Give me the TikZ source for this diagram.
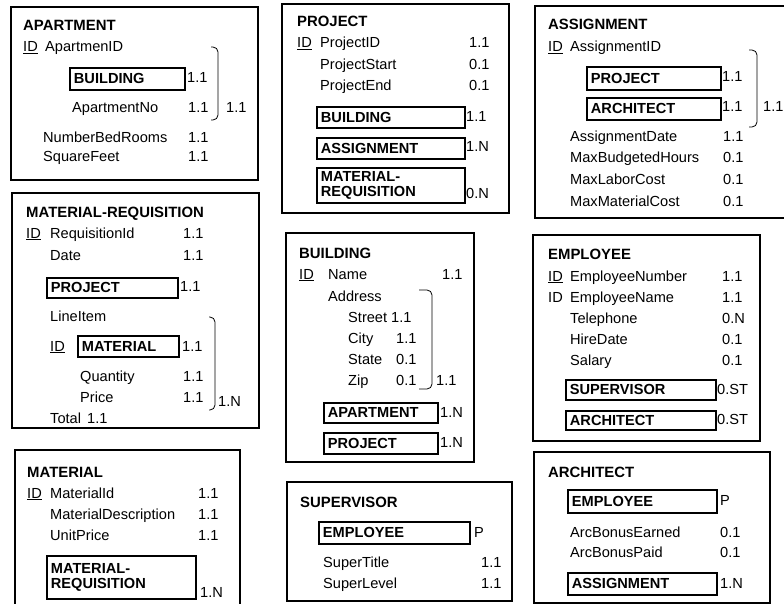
\documentclass[tikz,border=0pt]{standalone}
\usepackage{fontspec}
\setmainfont{Liberation Sans}

\begin{document}
\begin{tikzpicture}[x=1pt, y=-1pt]
	\tikzstyle{every node} = [anchor=base west, inner sep=0pt, font=\fontsize{14.6}{15}\selectfont]
	\tikzstyle{ent} = [line width=2.2pt]
	\tikzstyle{head} = [font=\fontsize{14.9}{15}\selectfont\bfseries]
	\tikzstyle{ref} = [draw, line width=1.9pt, anchor=north west, inner xsep=4pt, inner ysep=0pt, align=left, font=\fontsize{14.6}{15.5}\selectfont\bfseries]
	\tikzstyle{brk} = [line width=0.8pt, rounded corners=5pt]
	\useasboundingbox (0,0) rectangle (784,604);

	\draw[ent] (11,7) rectangle (258,180);
	\node[head] (A0) at (23,31) {APARTMENT};
	\node (A1) at (23,52) {\underline{ID}};
	\node (A2) at (45,52) {ApartmenID};
	\node[ref, text width=107pt, minimum height=22pt] (A3) at (69,67) {BUILDING};
	\node (A4) at (187,83) {1.1};
	\node (A5) at (72,113) {ApartmentNo};
	\node (A6) at (188,113) {1.1};
	\draw[brk] (211,47) -| (218,120) -- (211,120);
	\node (A7) at (226,113) {1.1};
	\node (A8) at (43,143) {NumberBedRooms};
	\node (A9) at (188,143) {1.1};
	\node (A10) at (43,162) {SquareFeet};
	\node (A11) at (188,162) {1.1};

	\draw[ent] (282,4) rectangle (509,213);
	\node[head] (P0) at (297,27) {PROJECT};
	\node (P1) at (297,48) {\underline{ID}};
	\node (P2) at (320,48) {ProjectID};
	\node (P3) at (469,48) {1.1};
	\node (P4) at (320,70) {ProjectStart};
	\node (P5) at (469,70) {0.1};
	\node (P6) at (320,91) {ProjectEnd};
	\node (P7) at (469,91) {0.1};
	\node[ref, text width=140pt, minimum height=21pt] (P8) at (316,106) {BUILDING};
	\node (P9) at (466,122) {1.1};
	\node[ref, text width=140pt, minimum height=21pt] (P10) at (316,137) {ASSIGNMENT};
	\node (P11) at (466,152) {1.N};
	\node[ref, text width=140pt, minimum height=35pt] (P12) at (316,167) {MATERIAL-\\REQUISITION};
	\node (P13) at (466,199) {0.N};

	\draw[ent] (784,6) -- (535,6) -- (535,218) -- (784,218);
	\node[head] (S0) at (548,30) {ASSIGNMENT};
	\node (S1) at (548,52) {\underline{ID}};
	\node (S2) at (570,52) {AssignmentID};
	\node[ref, text width=126pt, minimum height=23pt] (S3) at (586,66) {PROJECT};
	\node (S4) at (722,82) {1.1};
	\node[ref, text width=126pt, minimum height=22pt] (S5) at (586,97) {ARCHITECT};
	\node (S6) at (722,112) {1.1};
	\draw[brk] (749,50) -| (757,127) -- (749,127);
	\node (S7) at (763,112) {1.1};
	\node (S8) at (570,142) {AssignmentDate};
	\node (S9) at (723,142) {1.1};
	\node (S10) at (570,163) {MaxBudgetedHours};
	\node (S11) at (723,163) {0.1};
	\node (S12) at (570,185) {MaxLaborCost};
	\node (S13) at (723,185) {0.1};
	\node (S14) at (570,207) {MaxMaterialCost};
	\node (S15) at (723,207) {0.1};

	\draw[ent] (12,193) rectangle (259,428);
	\node[head] (R0) at (26,218) {MATERIAL-REQUISITION};
	\node (R1) at (26,238) {\underline{ID}};
	\node (R2) at (50,238) {RequisitionId};
	\node (R3) at (183,238) {1.1};
	\node (R4) at (50,260) {Date};
	\node (R5) at (183,260) {1.1};
	\node[ref, text width=123pt, minimum height=20pt] (R6) at (46,277) {PROJECT};
	\node (R7) at (180,291) {1.1};
	\node (R8) at (50,321) {LineItem};
	\node (R9) at (50,351) {\underline{ID}};
	\node[ref, text width=93pt, minimum height=21pt] (R10) at (77,335) {MATERIAL};
	\node (R11) at (182,351) {1.1};
	\node (R12) at (80,381) {Quantity};
	\node (R13) at (183,381) {1.1};
	\node (R14) at (80,402) {Price};
	\node (R15) at (183,402) {1.1};
	\draw[brk] (209,317) -| (215,410) -- (209,410);
	\node (R16) at (218,406) {1.N};
	\node (R17) at (50,423) {Total};
	\node (R18) at (87,423) {1.1};

	\draw[ent] (286,233) rectangle (474,462);
	\node[head] (B0) at (299,258) {BUILDING};
	\node (B1) at (299,279) {\underline{ID}};
	\node (B2) at (328,279) {Name};
	\node (B3) at (442,279) {1.1};
	\node (B4) at (328,301) {Address};
	\node (B5) at (348,322) {Street};
	\node (B6) at (391,322) {1.1};
	\node (B7) at (348,343) {City};
	\node (B8) at (396,343) {1.1};
	\node (B9) at (348,364) {State};
	\node (B10) at (396,364) {0.1};
	\node (B11) at (348,385) {Zip};
	\node (B12) at (396,385) {0.1};
	\draw[brk] (419,290) -| (432,389) -- (419,389);
	\node (B13) at (436,385) {1.1};
	\node[ref, text width=106pt, minimum height=20pt] (B14) at (323,402) {APARTMENT};
	\node (B15) at (440,417) {1.N};
	\node[ref, text width=106pt, minimum height=21pt] (B16) at (323,432) {PROJECT};
	\node (B17) at (440,447) {1.N};

	\draw[ent] (533,235) rectangle (760,441);
	\node[head] (E0) at (548,259) {EMPLOYEE};
	\node (E1) at (548,281) {\underline{ID}};
	\node (E2) at (570,281) {EmployeeNumber};
	\node (E3) at (722,281) {1.1};
	\node (E4) at (548,302) {ID};
	\node (E5) at (570,302) {EmployeeName};
	\node (E6) at (722,302) {1.1};
	\node (E7) at (570,323) {Telephone};
	\node (E8) at (722,323) {0.N};
	\node (E9) at (570,344) {HireDate};
	\node (E10) at (722,344) {0.1};
	\node (E11) at (570,365) {Salary};
	\node (E12) at (722,365) {0.1};
	\node[ref, text width=142pt, minimum height=20pt] (E13) at (565,379) {SUPERVISOR};
	\node (E14) at (717,394) {0.ST};
	\node[ref, text width=142pt, minimum height=19pt] (E15) at (565,410) {ARCHITECT};
	\node (E16) at (717,424) {0.ST};

	\draw[ent] (15,606) -- (15,450) -- (240,450) -- (240,606);
	\node[head] (M0) at (27,477) {MATERIAL};
	\node (M1) at (27,498) {\underline{ID}};
	\node (M2) at (50,498) {MaterialId};
	\node (M3) at (198,498) {1.1};
	\node (M4) at (50,519) {MaterialDescription};
	\node (M5) at (198,519) {1.1};
	\node (M6) at (50,540) {UnitPrice};
	\node (M7) at (198,540) {1.1};
	\node[ref, text width=141pt, minimum height=43pt] (M8) at (46,555) {MATERIAL-\\REQUISITION};
	\node (M9) at (200,597) {1.N};

	\draw[ent] (287,482) rectangle (512,601);
	\node[head] (V0) at (300,507) {SUPERVISOR};
	\node[ref, text width=143pt, minimum height=22pt] (V1) at (318,521) {EMPLOYEE};
	\node (V2) at (474,537) {P};
	\node (V3) at (323,567) {SuperTitle};
	\node (V4) at (481,567) {1.1};
	\node (V5) at (323,588) {SuperLevel};
	\node (V6) at (481,588) {1.1};

	\draw[ent] (534,452) rectangle (770,603);
	\node[head] (C0) at (548,477) {ARCHITECT};
	\node[ref, text width=141pt, minimum height=23pt] (C1) at (567,489) {EMPLOYEE};
	\node (C2) at (720,505) {P};
	\node (C3) at (570,537) {ArcBonusEarned};
	\node (C4) at (720,537) {0.1};
	\node (C5) at (570,557) {ArcBonusPaid};
	\node (C6) at (720,557) {0.1};
	\node[ref, text width=141pt, minimum height=22pt] (C7) at (567,572) {ASSIGNMENT};
	\node (C8) at (720,588) {1.N};
\end{tikzpicture}
\end{document}
